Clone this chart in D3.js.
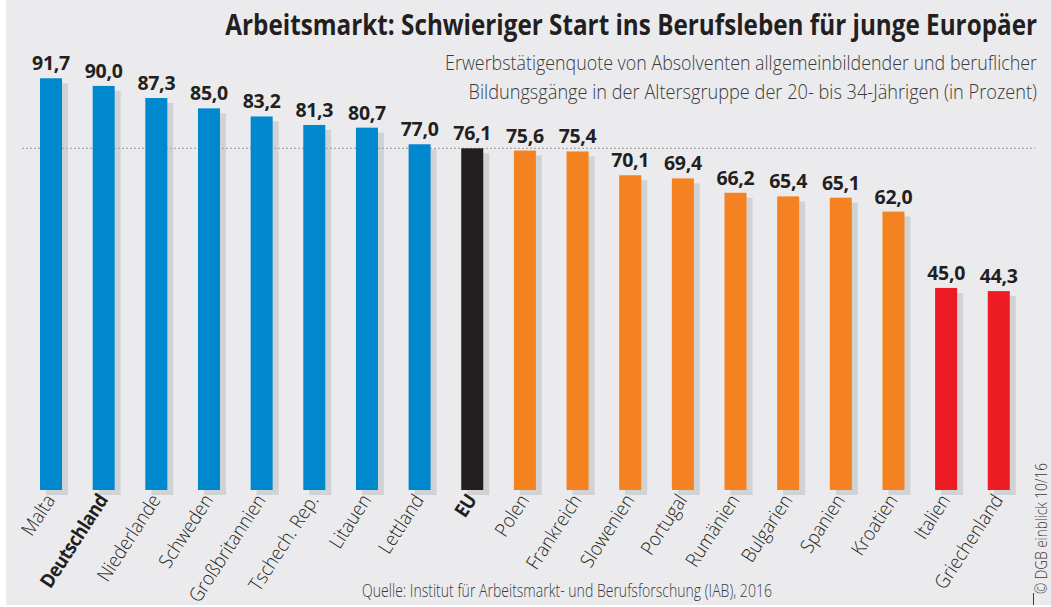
<!DOCTYPE html>
<html>
<head>
<meta charset="utf-8">
<title>Arbeitsmarkt</title>
<script src="https://d3js.org/d3.v7.min.js"></script>
<style>
  body { margin: 0; background: #fff; }
  svg text { font-family: "Open Sans", "DejaVu Sans", sans-serif; fill: #231f20; }
</style>
</head>
<body>
<div id="chart"></div>
<script>
// Erwerbstätigenquote junger Absolventen (in Prozent)
var countries = ["Malta", "Deutschland", "Niederlande", "Schweden", "Großbritannien",
  "Tschech. Rep.", "Litauen", "Lettland", "EU", "Polen", "Frankreich", "Slowenien",
  "Portugal", "Rumänien", "Bulgarien", "Spanien", "Kroatien", "Italien", "Griechenland"];
var rates = [91.7, 90.0, 87.3, 85.0, 83.2, 81.3, 80.7, 77.0, 76.1, 75.6, 75.4, 70.1,
  69.4, 66.2, 65.4, 65.1, 62.0, 45.0, 44.3];
var groups = ["hoch", "hoch", "hoch", "hoch", "hoch", "hoch", "hoch", "hoch", "eu",
  "mittel", "mittel", "mittel", "mittel", "mittel", "mittel", "mittel", "mittel",
  "niedrig", "niedrig"];
var boldNames = ["Deutschland", "EU"];
var euValue = 76.1;

var title = "Arbeitsmarkt: Schwieriger Start ins Berufsleben für junge Europäer";
var subtitle = ["Erwerbstätigenquote von Absolventen allgemeinbildender und beruflicher",
  "Bildungsgänge in der Altersgruppe der 20- bis 34-Jährigen (in Prozent)"];
var source = "Quelle: Institut für Arbeitsmarkt- und Berufsforschung (IAB), 2016";
var credit = "© DGB einblick 10/16";

var width = 1051, height = 607;
var data = countries.map(function(c, i) {
  return { name: c, value: rates[i], group: groups[i] };
});

var svg = d3.select("#chart").append("svg")
  .attr("width", width)
  .attr("height", height);

svg.append("rect")
  .attr("x", 6).attr("y", 0)
  .attr("width", width - 6).attr("height", 605)
  .attr("fill", "#ebebed");

var x = d3.scaleBand()
  .domain(countries)
  .range([24.7, 1025.1])
  .paddingInner(0.582)
  .paddingOuter(0.291);

var y = d3.scaleLinear()
  .domain([0, 100])
  .range([490, 41]);

var color = d3.scaleOrdinal()
  .domain(["hoch", "eu", "mittel", "niedrig"])
  .range(["#0088cf", "#231f20", "#f58220", "#ed1c24"]);

// squeeze a text horizontally to a target width (condensed look)
function fitText(sel, target) {
  sel.each(function() {
    var w = this.getComputedTextLength();
    var t = d3.select(this).attr("data-t");
    d3.select(this).attr("transform", t + " scale(" + (target / w) + ",1)");
  });
}

// shadows
svg.append("g").selectAll("rect")
  .data(data)
  .enter().append("rect")
  .attr("x", function(d) { return x(d.name) + 6; })
  .attr("y", function(d) { return y(d.value) + 5; })
  .attr("width", x.bandwidth())
  .attr("height", function(d) { return y(0) - y(d.value); })
  .attr("fill", "#d1d2d4");

// EU reference line
svg.append("line")
  .attr("x1", 22).attr("x2", 1035)
  .attr("y1", y(euValue)).attr("y2", y(euValue))
  .attr("stroke", "#9a9a9c")
  .attr("stroke-width", 1)
  .attr("stroke-dasharray", "2,2");

// bars
svg.append("g").selectAll("rect")
  .data(data)
  .enter().append("rect")
  .attr("x", function(d) { return x(d.name); })
  .attr("y", function(d) { return y(d.value); })
  .attr("width", x.bandwidth())
  .attr("height", function(d) { return y(0) - y(d.value); })
  .attr("fill", function(d) { return color(d.group); });

// value labels
svg.append("g").selectAll("text")
  .data(data)
  .enter().append("text")
  .attr("x", function(d) { return x(d.name) + x.bandwidth() / 2; })
  .attr("y", function(d) { return y(d.value) - 8; })
  .attr("text-anchor", "middle")
  .style("font-size", "19.5px")
  .style("font-weight", "bold")
  .style("letter-spacing", "-0.3px")
  .text(function(d) { return d3.format(".1f")(d.value).replace(".", ","); });

// category labels
svg.append("g").selectAll("text")
  .data(data)
  .enter().append("text")
  .attr("transform", function(d) {
    return "translate(" + (x(d.name) + x.bandwidth() / 2 + 5) + "," + 500 + ") rotate(-57) scale(0.92,1)";
  })
  .attr("text-anchor", "end")
  .style("font-size", "19.5px")
  .style("font-weight", function(d) { return boldNames.indexOf(d.name) >= 0 ? "bold" : "300"; })
  .style("letter-spacing", function(d) { return boldNames.indexOf(d.name) >= 0 ? "-0.6px" : "0px"; })
  .text(function(d) { return d.name; });

// title
svg.append("text")
  .attr("data-t", "translate(1037,35)")
  .attr("text-anchor", "end")
  .style("font-size", "28px")
  .style("font-weight", "bold")
  .text(title)
  .call(fitText, 812);

svg.append("g").selectAll("text")
  .data(subtitle)
  .enter().append("text")
  .attr("data-t", function(d, i) { return "translate(1037," + (70 + i * 29) + ")"; })
  .attr("text-anchor", "end")
  .style("font-size", "20.5px")
  .style("font-weight", "300")
  .style("fill", "#3a3a3c")
  .text(function(d) { return d; })
  .each(function(d, i) { d3.select(this).call(fitText, i === 0 ? 592 : 569); });

svg.append("text")
  .attr("data-t", "translate(567,597)")
  .attr("text-anchor", "middle")
  .style("font-size", "17.5px")
  .style("font-weight", "300")
  .style("fill", "#3a3a3c")
  .text(source)
  .call(fitText, 410);

svg.append("text")
  .attr("data-t", "translate(1047,594) rotate(-90)")
  .attr("text-anchor", "start")
  .style("font-size", "16px")
  .style("font-weight", "300")
  .style("fill", "#3a3a3c")
  .text(credit)
  .call(fitText, 131);

svg.append("line")
  .attr("x1", 1033.5).attr("x2", 1033.5)
  .attr("y1", 593).attr("y2", 605)
  .attr("stroke", "#3a3a3c")
  .attr("stroke-width", 1);
</script>
</body>
</html>
